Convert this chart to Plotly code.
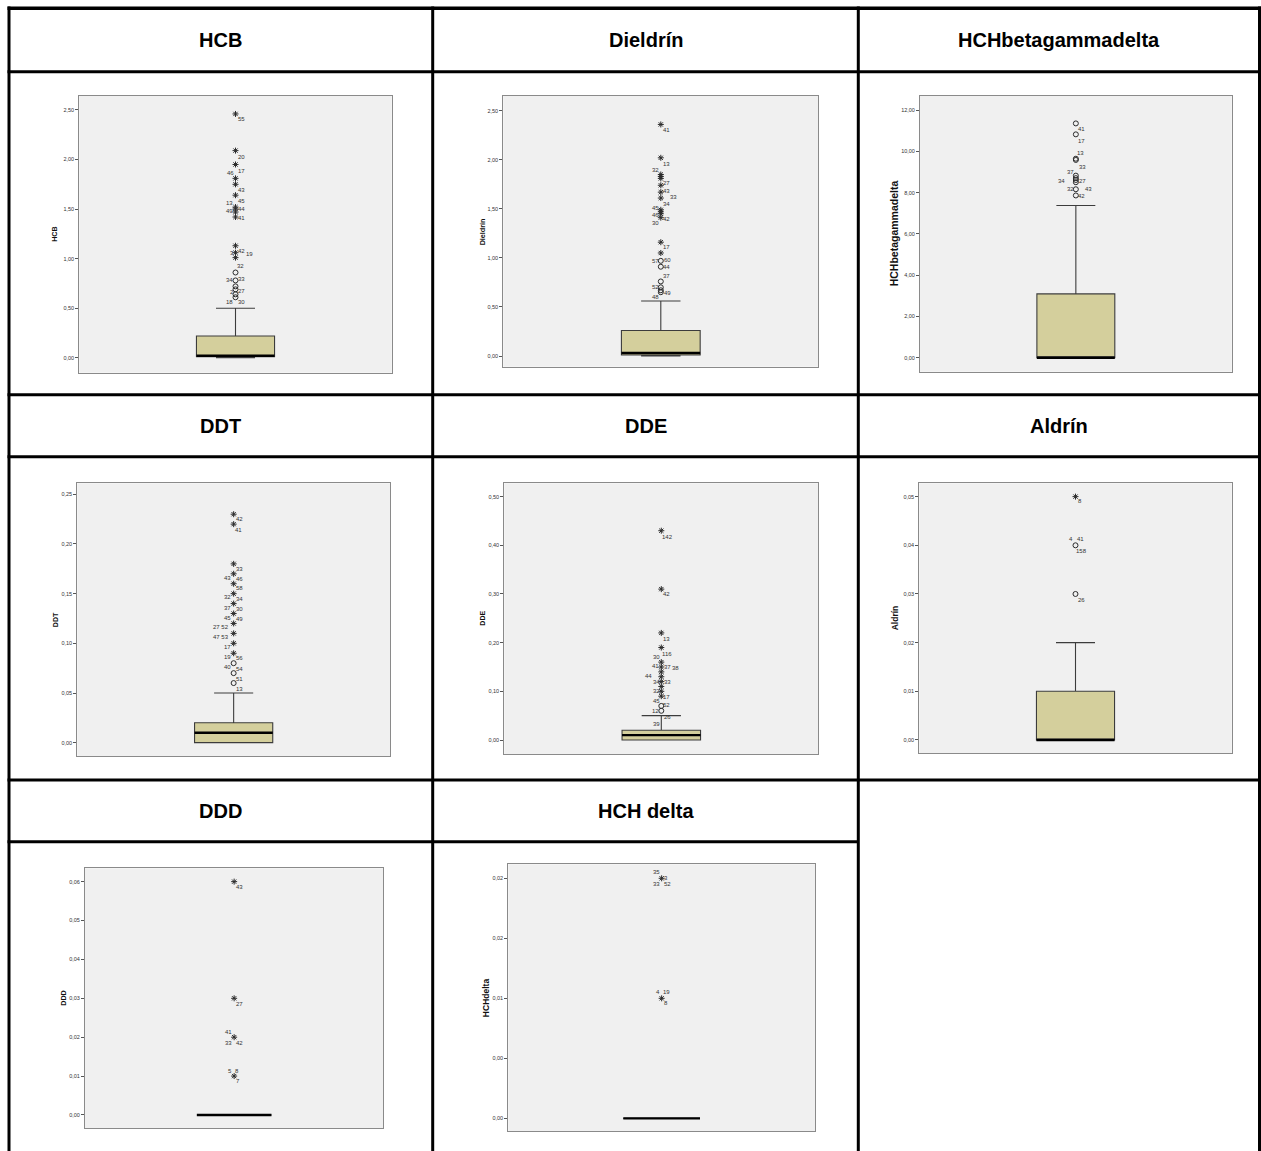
import plotly.graph_objects as go

W, H = 1261, 1151

# ---------------- data ----------------
panel_names = ["HCB", "Dieldrín", "HCHbetagammadelta", "DDT", "DDE", "Aldrín", "DDD", "HCH delta"]
axis_titles = ["HCB", "Dieldrín", "HCHbetagammadelta", "DDT", "DDE", "Aldrín", "DDD", "HCHdelta"]

q1_vals = [0.01, 0.01, 0.0, 0.0, 0.0, 0.0, 0.0, 0.0]
median_vals = [0.02, 0.03, 0.0, 0.01, 0.01, 0.0, 0.0, 0.0]
q3_vals = [0.22, 0.26, 3.09, 0.02, 0.02, 0.01, 0.0, 0.0]
lower_vals = [0.0, 0.0, 0.0, 0.0, 0.0, 0.0, 0.0, 0.0]
upper_vals = [0.50, 0.56, 7.37, 0.05, 0.05, 0.02, 0.0, 0.0]

hcb_ticks = [0.0, 0.5, 1.0, 1.5, 2.0, 2.5]
diel_ticks = [0.0, 0.5, 1.0, 1.5, 2.0, 2.5]
hchbgd_ticks = [0, 2, 4, 6, 8, 10, 12]
ddt_ticks = [0.0, 0.05, 0.10, 0.15, 0.20, 0.25]
dde_ticks = [0.0, 0.1, 0.2, 0.3, 0.4, 0.5]
aldrin_ticks = [0.0, 0.01, 0.02, 0.03, 0.04, 0.05]
ddd_ticks = [0.0, 0.01, 0.02, 0.03, 0.04, 0.05, 0.06]
hchd_ticks = [0.0, 0.005, 0.01, 0.015, 0.02]
hchd_ticktext = ["0,00", "0,00", "0,01", "0,02", "0,02"]

# extreme (*) and outlier (o) values
hcb_stars = [2.46, 2.09, 1.95, 1.81, 1.75, 1.64, 1.52, 1.50, 1.47, 1.42, 1.13, 1.06, 1.01]
hcb_circles = [0.86, 0.78, 0.72, 0.69, 0.64, 0.61]
diel_stars = [2.36, 2.02, 1.85, 1.83, 1.81, 1.74, 1.67, 1.61, 1.49, 1.47, 1.45, 1.41, 1.16, 1.05]
diel_circles = [0.97, 0.91, 0.76, 0.70, 0.67, 0.65]
hchbgd_stars = []
hchbgd_circles = [11.35, 10.82, 9.64, 9.58, 8.82, 8.70, 8.61, 8.50, 8.16, 7.86]
ddt_stars = [0.23, 0.22, 0.18, 0.17, 0.16, 0.15, 0.14, 0.13, 0.12, 0.11, 0.10, 0.09]
ddt_circles = [0.08, 0.07, 0.06]
dde_stars = [0.43, 0.31, 0.22, 0.19, 0.16, 0.15, 0.14, 0.13, 0.12, 0.11, 0.10, 0.09]
dde_circles = [0.07, 0.06]
aldrin_stars = [0.05]
aldrin_circles = [0.04, 0.03]
ddd_stars = [0.06, 0.03, 0.02, 0.01]
ddd_circles = []
hchd_stars = [0.02, 0.01]
hchd_circles = []

# case labels and the value they belong to
hcb_labels = ["55", "20", "17", "46", "43", "45", "13", "44", "49", "41", "3", "42", "19", "32",
              "34", "33", "2", "27", "18", "30"]
hcb_label_vals = [2.46, 2.09, 1.95, 1.95, 1.75, 1.64, 1.64, 1.52, 1.52, 1.42, 1.06, 1.06, 1.06, 1.01,
                  0.78, 0.78, 0.69, 0.69, 0.61, 0.61]
diel_labels = ["41", "13", "32", "27", "43", "33", "34", "45", "46", "42", "30", "17", "57", "60",
               "44", "37", "52", "49", "48"]
diel_label_vals = [2.36, 2.02, 1.85, 1.74, 1.67, 1.61, 1.61, 1.49, 1.45, 1.41, 1.41, 1.16, 0.97, 0.97,
                   0.91, 0.76, 0.70, 0.65, 0.65]
hchbgd_labels = ["41", "17", "13", "33", "37", "34", "27", "32", "43", "42"]
hchbgd_label_vals = [11.35, 10.82, 9.64, 9.58, 8.82, 8.61, 8.61, 8.16, 8.16, 7.86]
ddt_labels = ["42", "41", "33", "43", "46", "58", "32", "34", "37", "30", "45", "49", "27 52",
              "47 53", "17", "19", "56", "40", "54", "51", "13"]
ddt_label_vals = [0.23, 0.22, 0.18, 0.17, 0.17, 0.16, 0.15, 0.15, 0.14, 0.14, 0.13, 0.13, 0.12,
                  0.11, 0.10, 0.09, 0.09, 0.08, 0.08, 0.07, 0.06]
dde_labels = ["142", "42", "13", "116", "30", "41", "37", "38", "44", "34", "33", "32", "17", "45",
              "52", "12", "26", "39"]
dde_label_vals = [0.43, 0.31, 0.22, 0.19, 0.16, 0.15, 0.15, 0.15, 0.13, 0.12, 0.12, 0.10, 0.09, 0.07,
                  0.07, 0.06, 0.06, 0.06]
aldrin_labels = ["8", "4", "41", "158", "26"]
aldrin_label_vals = [0.05, 0.04, 0.04, 0.04, 0.03]
ddd_labels = ["43", "27", "41", "33", "42", "5", "8", "7"]
ddd_label_vals = [0.06, 0.03, 0.02, 0.02, 0.02, 0.01, 0.01, 0.01]
hchd_labels = ["35", "3", "33", "52", "4", "19", "8"]
hchd_label_vals = [0.02, 0.02, 0.02, 0.02, 0.01, 0.01, 0.01]

# ---------------- style: label placement (pixel shifts dx, dy) ----------------
hcb_label_shift = [(5.5, -5.3), (5.7, -6), (5.7, -6.3), (-5.5, -8.3), (5.7, -5.7), (5.7, -5.7),
                   (-5.7, -7.7), (5.5, -2.3), (-5.7, -4.3), (5.7, -1), (-3.3, 0), (6, 1.3),
                   (13.7, -1.7), (5.3, -8), (-6, 0), (6.3, 1.3), (-4, -2.7), (6.3, -2),
                   (-5.7, -4.3), (6.3, -4.7)]
diel_label_shift = [(5.3, -6), (5.7, -5.7), (-5, 4.7), (5.3, 2.3), (5.7, 1), (12.7, 0.7),
                    (5.7, -5.7), (-5.7, 2), (-5.7, -1.7), (6, -1.3), (-5.7, -5.7), (5.7, -5.3),
                    (-5.7, 0), (6.3, 1.3), (6, 0), (5.3, 5), (-5.7, 0), (6.3, -0.7), (-5, -5)]
hchbgd_label_shift = [(6, -6), (6, -6.3), (5, 6), (6.3, -6.7), (-5.3, 3.7), (-14.3, -1),
                      (6.3, -1), (-5.3, 0.7), (13, 0.7), (6, -0.7)]
ddt_label_shift = [(5.7, -5.1), (5.3, -5.5), (5.7, -5.1), (-5.7, -3.9), (5.7, -4.9), (5.7, -4.6),
                   (-5.7, -3.7), (5.7, -5), (-5.7, -4), (5.7, -5), (-5.7, -4.5), (5.7, -5.5),
                   (-12.3, -3.9), (-12.3, -3.6), (-5.7, -4), (-5.7, -4), (5.7, -5), (-5.7, -4.1),
                   (6, -6), (5.7, -5.5), (6, -5.6)]
dde_label_shift = [(6.3, -6), (5.3, -5.2), (5.3, -5.7), (6, -6.1), (-5.3, 5.5), (-5.7, 0.7),
                   (5.7, 0), (14, -1.3), (-12.7, 0.7), (-5.3, 0), (5.7, -0.3), (-5.3, 0),
                   (5.3, -0.8), (-5.3, 5), (5, 0.6), (-6, 0), (6, -6), (-5.3, -12.9)]
aldrin_label_shift = [(4, -4), (-4.7, 6), (4.7, 6), (6.3, -6), (5.7, -5.7)]
ddd_label_shift = [(5.3, -5.7), (5, -5.3), (-5.7, 5.6), (-5.7, -5.4), (5.3, -5.4), (-3.7, 5.4),
                   (3.3, 5.4), (3.7, -4.6)]
hchd_label_shift = [(-5, 6), (4.7, 0.7), (-5, -6), (6, -6), (-3.7, 6), (5, 6), (4.3, -4.3)]

panels = [
    dict(ticks=hcb_ticks, text=None, stars=hcb_stars, circles=hcb_circles,
         labels=hcb_labels, lvals=hcb_label_vals, lshift=hcb_label_shift),
    dict(ticks=diel_ticks, text=None, stars=diel_stars, circles=diel_circles,
         labels=diel_labels, lvals=diel_label_vals, lshift=diel_label_shift),
    dict(ticks=hchbgd_ticks, text=None, stars=hchbgd_stars, circles=hchbgd_circles,
         labels=hchbgd_labels, lvals=hchbgd_label_vals, lshift=hchbgd_label_shift),
    dict(ticks=ddt_ticks, text=None, stars=ddt_stars, circles=ddt_circles,
         labels=ddt_labels, lvals=ddt_label_vals, lshift=ddt_label_shift),
    dict(ticks=dde_ticks, text=None, stars=dde_stars, circles=dde_circles,
         labels=dde_labels, lvals=dde_label_vals, lshift=dde_label_shift),
    dict(ticks=aldrin_ticks, text=None, stars=aldrin_stars, circles=aldrin_circles,
         labels=aldrin_labels, lvals=aldrin_label_vals, lshift=aldrin_label_shift),
    dict(ticks=ddd_ticks, text=None, stars=ddd_stars, circles=ddd_circles,
         labels=ddd_labels, lvals=ddd_label_vals, lshift=ddd_label_shift),
    dict(ticks=hchd_ticks, text=hchd_ticktext, stars=hchd_stars, circles=hchd_circles,
         labels=hchd_labels, lvals=hchd_label_vals, lshift=hchd_label_shift),
]

# ---------------- layout geometry (pixels) ----------------
frames = [
    (79.3, 391.7, 96.0, 372.7), (503.3, 818.3, 96.0, 366.7), (920.0, 1231.7, 96.0, 371.7),
    (77.3, 390.0, 483.3, 756.0), (504.3, 818.3, 483.3, 754.0), (919.3, 1231.7, 483.3, 753.3),
    (85.0, 383.3, 868.3, 1128.3), (508.3, 815.0, 864.3, 1131.0),
]
y_ranges = [
    [-0.151, 2.641], [-0.109, 2.650], [-0.678, 12.678],
    [-0.01342, 0.2611], [-0.02877, 0.5274], [-0.00274, 0.05274],
    [-0.00343, 0.06343], [-0.001056, 0.021167],
]
title_x = [54.5, 482, 893.5, 55.5, 483, 895, 63.5, 485.5]
title_size = [7.2, 7.2, 10.5, 7.0, 7.0, 8.5, 7.2, 8.5]

col_lines_x = [9.0, 432.7, 858.3, 1259.5]
row_lines_y = [8.3, 71.7, 394.7, 456.7, 780.0]
partial_row_y = 841.7
header_centers = [(220.9, 40.0), (645.5, 40.0), (1058.9, 40.0),
                  (220.9, 425.7), (645.5, 425.7), (1058.9, 425.7),
                  (220.9, 810.9), (645.5, 810.9)]

FONT = "Liberation Sans, Arial, sans-serif"
BOX_FILL = "#d4cf9c"
INK = "#2b2b2b"

def px(x):
    return x / W

def py(y):
    return 1 - y / H

fig = go.Figure()
annotations = []
shapes = []
layout_axes = {}

for i, p in enumerate(panels):
    n = i + 1
    xa = "x" if n == 1 else f"x{n}"
    ya = "y" if n == 1 else f"y{n}"
    x0, x1, y0, y1 = frames[i]

    fig.add_trace(go.Box(
        x=[0], q1=[q1_vals[i]], median=[median_vals[i]], q3=[q3_vals[i]],
        lowerfence=[lower_vals[i]], upperfence=[upper_vals[i]],
        width=1.0, whiskerwidth=0.5, fillcolor=BOX_FILL,
        line=dict(color="#3c3c3c", width=1.1), boxpoints=False,
        hoverinfo="skip", xaxis=xa, yaxis=ya, showlegend=False,
    ))
    fig.add_trace(go.Scatter(
        x=[-0.5, 0.5], y=[median_vals[i], median_vals[i]], mode="lines",
        line=dict(color="black", width=2.4), hoverinfo="skip",
        xaxis=xa, yaxis=ya, showlegend=False,
    ))
    if p["stars"]:
        fig.add_trace(go.Scatter(
            x=[0] * len(p["stars"]), y=p["stars"], mode="markers",
            marker=dict(symbol="asterisk-open", size=5, color=INK, line=dict(color=INK, width=1)),
            hoverinfo="skip", xaxis=xa, yaxis=ya, showlegend=False,
        ))
    if p["circles"]:
        fig.add_trace(go.Scatter(
            x=[0] * len(p["circles"]), y=p["circles"], mode="markers",
            marker=dict(symbol="circle-open", size=5, color=INK, line=dict(color=INK, width=1)),
            hoverinfo="skip", xaxis=xa, yaxis=ya, showlegend=False,
        ))

    for lab, v, (dx, dy) in zip(p["labels"], p["lvals"], p["lshift"]):
        annotations.append(dict(
            x=0, y=v, xref=xa, yref=ya, text=lab, showarrow=False,
            xshift=dx, yshift=dy, xanchor="center", yanchor="middle",
            font=dict(family=FONT, size=6, color="#333333"),
        ))

    ticktext = p["text"] if p["text"] is not None else [f"{t:.2f}".replace(".", ",") for t in p["ticks"]]
    layout_axes["xaxis" if n == 1 else f"xaxis{n}"] = dict(
        domain=[px(x0), px(x1)], range=[-2, 2], anchor=ya,
        showline=True, mirror=True, linecolor="#8a8a8a", linewidth=1,
        showticklabels=False, ticks="", showgrid=False, zeroline=False, fixedrange=True,
    )
    layout_axes["yaxis" if n == 1 else f"yaxis{n}"] = dict(
        domain=[py(y1), py(y0)], range=y_ranges[i], anchor=xa,
        tickvals=p["ticks"], ticktext=ticktext, ticks="outside", ticklen=3,
        tickcolor="#555555", tickwidth=1,
        tickfont=dict(family=FONT, size=5.5, color="#333333"),
        showline=True, mirror=True, linecolor="#8a8a8a", linewidth=1,
        showgrid=False, zeroline=False, fixedrange=True,
    )
    annotations.append(dict(
        x=px(title_x[i]), y=(py(y0) + py(y1)) / 2, xref="paper", yref="paper",
        text=f"<b>{axis_titles[i]}</b>", textangle=-90, showarrow=False,
        xanchor="center", yanchor="middle",
        font=dict(family=FONT, size=title_size[i], color="#111111"),
    ))

for name, (cx, cy) in zip(panel_names, header_centers):
    annotations.append(dict(
        x=px(cx), y=py(cy), xref="paper", yref="paper", text=f"<b>{name}</b>",
        showarrow=False, xanchor="center", yanchor="middle",
        font=dict(family=FONT, size=20, color="black"),
    ))

for x in col_lines_x:
    shapes.append(dict(type="line", xref="paper", yref="paper",
                       x0=px(x), x1=px(x), y0=py(6.6), y1=py(H + 2),
                       line=dict(color="black", width=3)))
for k, y in enumerate(row_lines_y):
    shapes.append(dict(type="line", xref="paper", yref="paper",
                       x0=px(7.5), x1=px(W + 2), y0=py(y), y1=py(y),
                       line=dict(color="black", width=3.5 if k == 0 else 3)))
shapes.append(dict(type="line", xref="paper", yref="paper",
                   x0=px(7.5), x1=px(col_lines_x[2]), y0=py(partial_row_y), y1=py(partial_row_y),
                   line=dict(color="black", width=3)))

fig.update_layout(
    width=W, height=H, autosize=False,
    margin=dict(l=0, r=0, t=0, b=0, pad=0),
    paper_bgcolor="white", plot_bgcolor="#f0f0f0",
    showlegend=False, font=dict(family=FONT),
    annotations=annotations, shapes=shapes,
    **layout_axes,
)

fig.write_html("out.html", config={"displayModeBar": False},
               post_script="document.body.style.margin='0';document.body.style.overflow='hidden';")
